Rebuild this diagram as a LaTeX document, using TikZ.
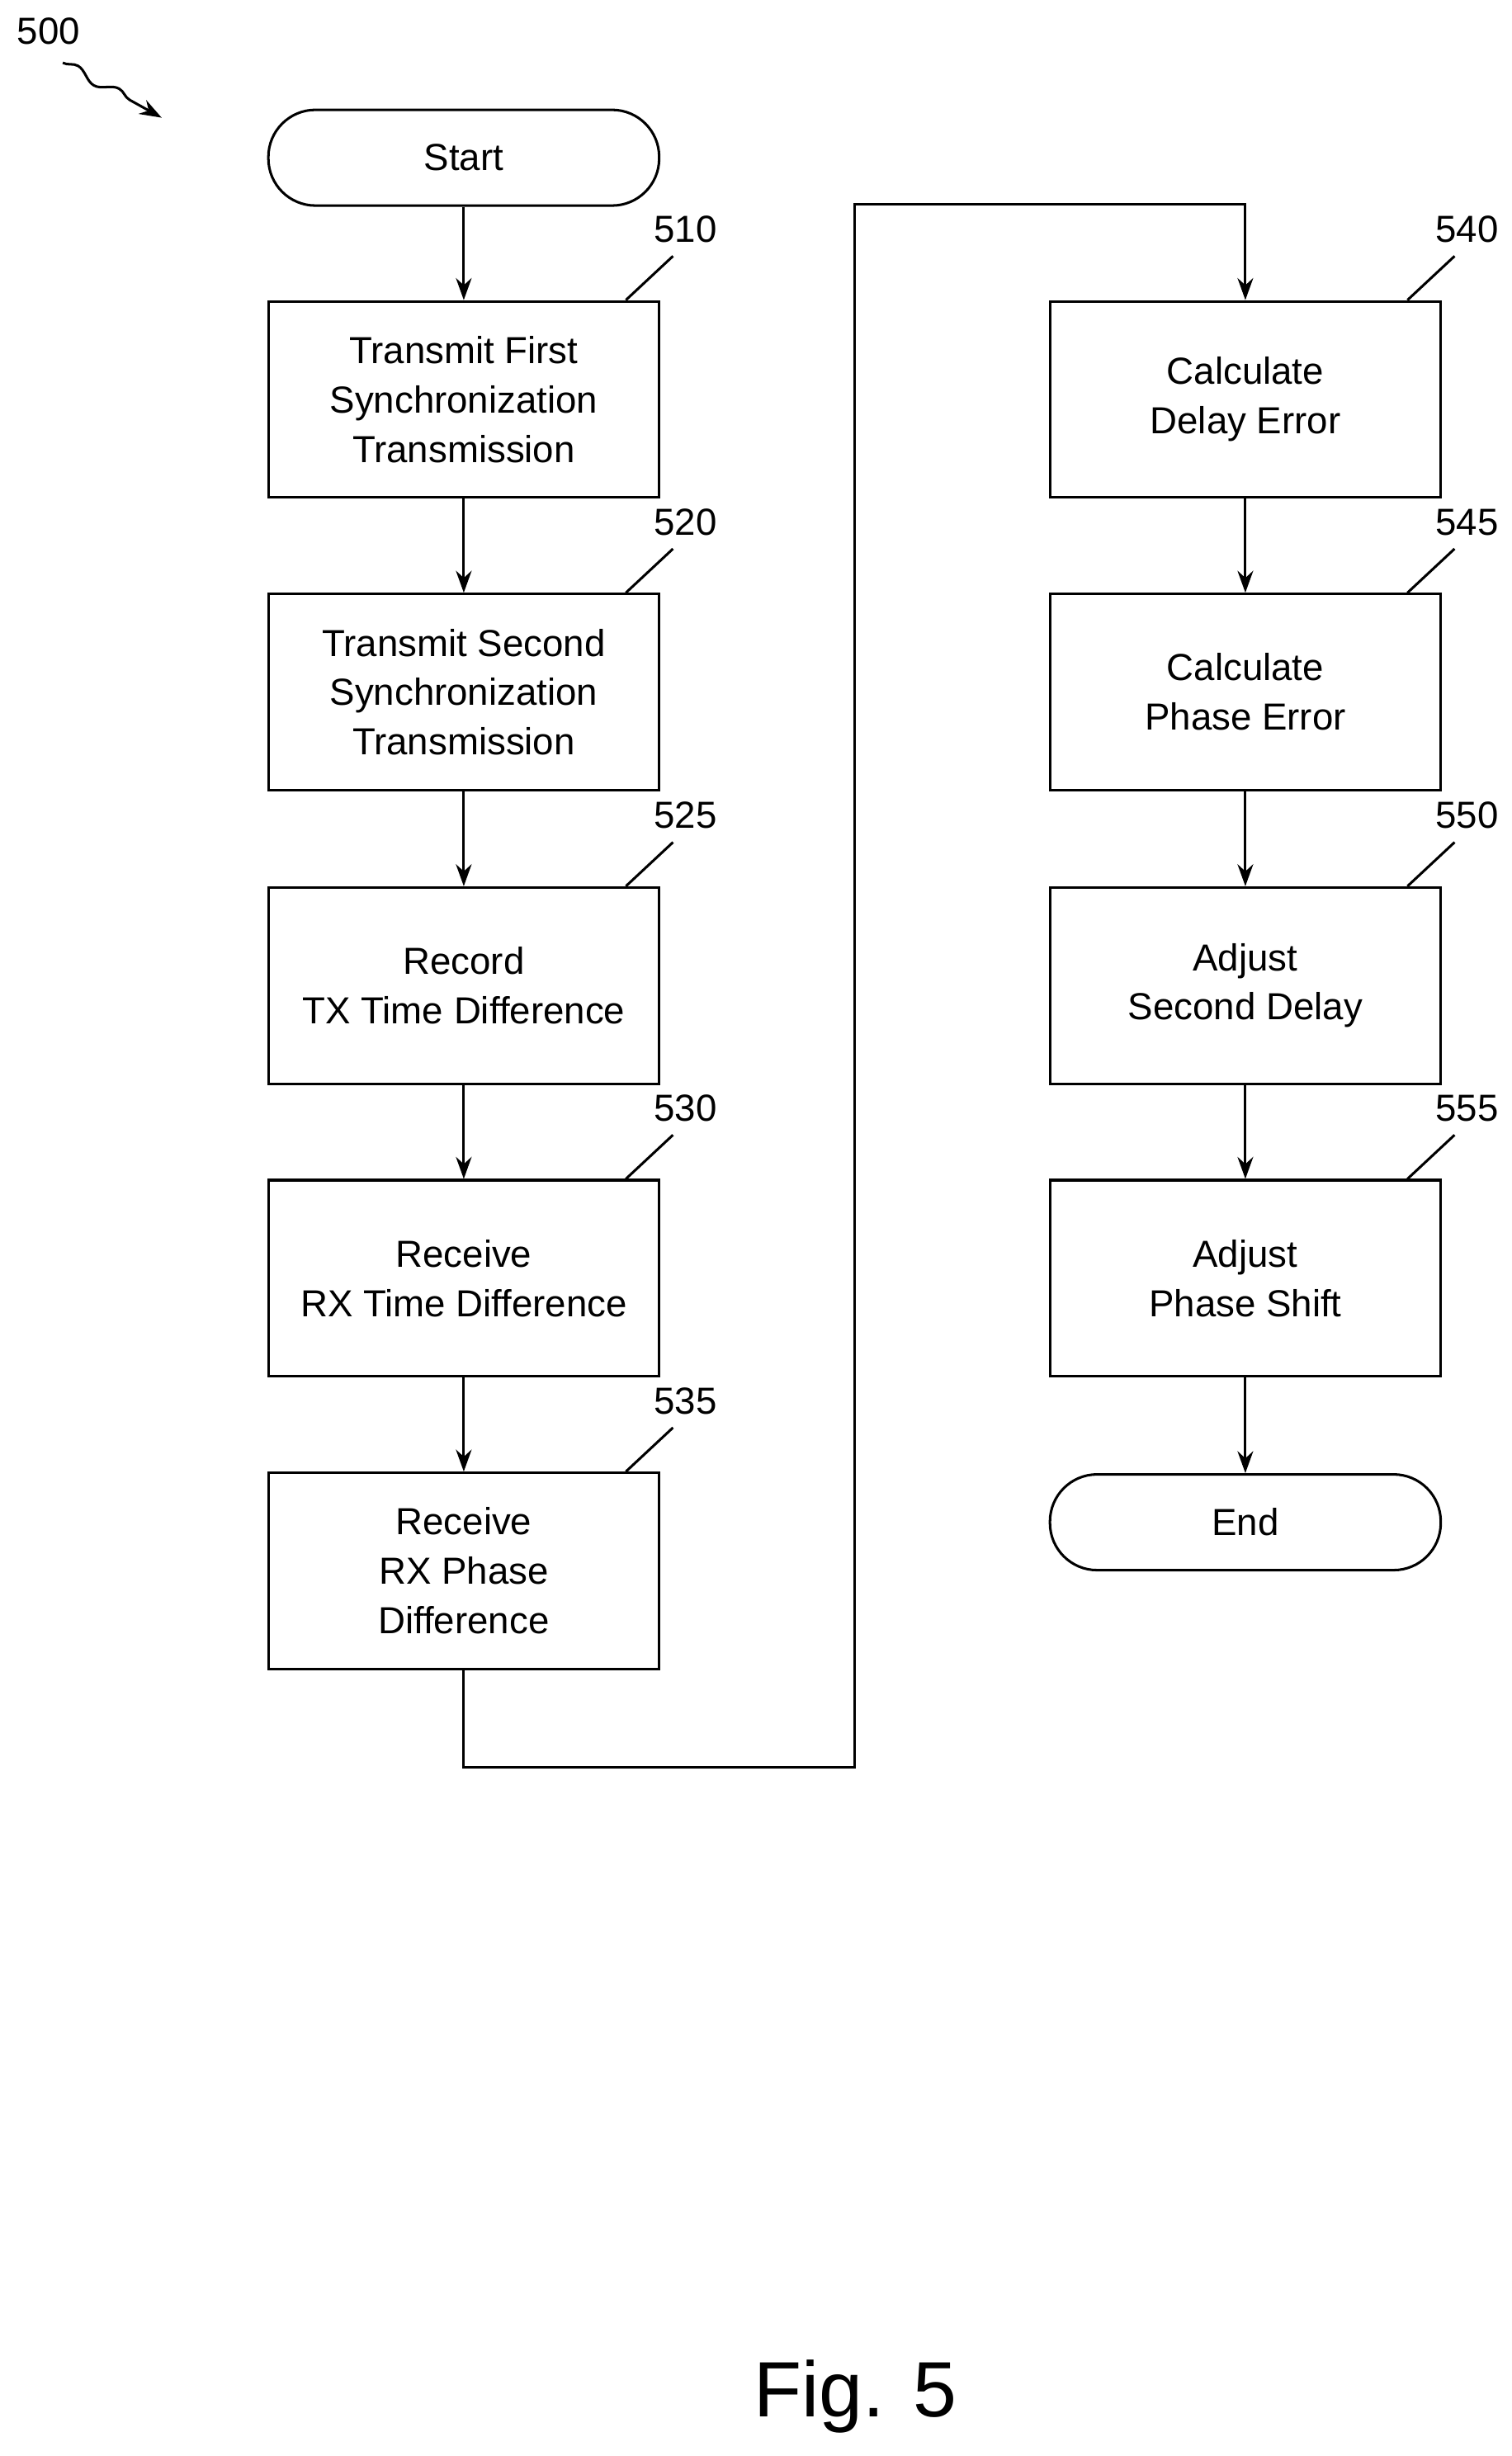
\documentclass[tikz,border=0pt]{standalone}
\usepackage{fontspec}
\setmainfont{Liberation Sans}
\usetikzlibrary{arrows.meta,decorations.pathmorphing}

\tikzset{every picture/.style={line width=1.6pt}}
\tikzset{
  proc/.style={draw, minimum width=249pt, minimum height=125pt, align=center,
    font=\fontsize{24}{31.5}\selectfont, inner sep=0pt},
  term/.style={draw, rounded corners=30pt, minimum width=249pt, minimum height=61pt,
    font=\fontsize{24}{30}\selectfont, inner sep=0pt},
  ref/.style={font=\fontsize{24}{30}\selectfont, inner sep=0.75pt},
  flow/.style={-{Stealth[length=14pt,width=10pt]}}
}

\begin{document}
\begin{tikzpicture}[x=1pt,y=1pt,yscale=-1,xscale=1]
\useasboundingbox (0,0) rectangle (963,1565);

% Figure number and pointer
\node [ref] (n500) at (31,20) {500};
\draw [flow, decorate, decoration={snake, amplitude=3pt, segment length=30pt, post length=12pt}] (40,40) -- (103,75);

% Left column
\node [term] (start) at (295.5,100.5) {Start};
\node [proc] (s510) at (295.5,254.5) {Transmit First\\Synchronization\\Transmission};
\node [proc] (s520) at (295.5,441) {Transmit Second\\Synchronization\\Transmission};
\node [proc] (s525) at (295.5,628) {Record\\TX Time Difference};
\node [proc] (s530) at (295.5,814.5) {Receive\\RX Time Difference};
\node [proc] (s535) at (295.5,1001) {Receive\\RX Phase\\Difference};

% Right column
\node [proc] (s540) at (793.5,254.5) {Calculate\\Delay Error};
\node [proc] (s545) at (793.5,441) {Calculate\\Phase Error};
\node [proc] (s550) at (793.5,628) {Adjust\\Second Delay};
\node [proc] (s555) at (793.5,814.5) {Adjust\\Phase Shift};
\node [term] (end) at (793.5,970) {End};

% Reference numerals
\foreach \s/\t in {s510/510,s520/520,s525/525,s530/530,s535/535,s540/540,s545/545,s550/550,s555/555}{
  \node [ref] (l\t) at ([xshift=16pt,yshift=-45pt]\s.north east) {\t};
  \draw ([xshift=-22pt]\s.north east) -- ++(30pt,-28pt);
}

% Connectors
\draw [flow] (start) -- (s510);
\draw [flow] (s510) -- (s520);
\draw [flow] (s520) -- (s525);
\draw [flow] (s525) -- (s530);
\draw [flow] (s530) -- (s535);
\draw [flow] (s535.south) -- ++(0,62pt) -| (544.5,130) -| (s540.north);
\draw [flow] (s540) -- (s545);
\draw [flow] (s545) -- (s550);
\draw [flow] (s550) -- (s555);
\draw [flow] (s555) -- (end);

\node [font=\fontsize{50}{60}\selectfont] (fig) at (545,1527) {Fig. 5};
\end{tikzpicture}
\end{document}
